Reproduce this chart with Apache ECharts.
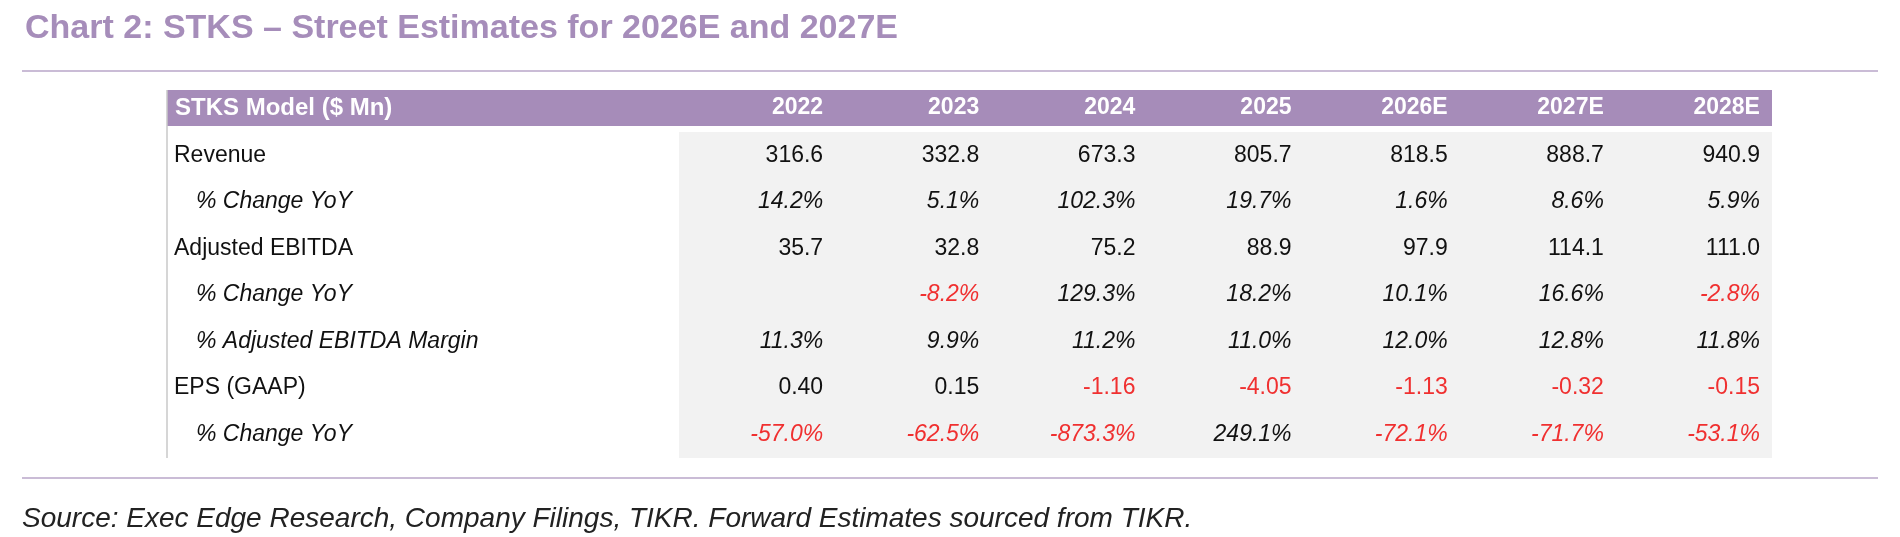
<!DOCTYPE html>
<html><head><meta charset="utf-8">
<script src="https://cdn.jsdelivr.net/npm/echarts@6/dist/echarts.min.js"></script>
<style>html,body{margin:0;padding:0;background:#fff}#c{width:1900px;height:537px}</style>
</head><body><div id="c"></div>
<script>
const years = ['2022','2023','2024','2025','2026E','2027E','2028E'];
const rowLabels = ['Revenue','% Change YoY','Adjusted EBITDA','% Change YoY','% Adjusted EBITDA Margin','EPS (GAAP)','% Change YoY'];
const rowItalic = [false,true,false,true,true,false,true];
const revenue = ['316.6','332.8','673.3','805.7','818.5','888.7','940.9'];
const revenueYoY = ['14.2%','5.1%','102.3%','19.7%','1.6%','8.6%','5.9%'];
const ebitda = ['35.7','32.8','75.2','88.9','97.9','114.1','111.0'];
const ebitdaYoY = ['','-8.2%','129.3%','18.2%','10.1%','16.6%','-2.8%'];
const ebitdaMargin = ['11.3%','9.9%','11.2%','11.0%','12.0%','12.8%','11.8%'];
const eps = ['0.40','0.15','-1.16','-4.05','-1.13','-0.32','-0.15'];
const epsYoY = ['-57.0%','-62.5%','-873.3%','249.1%','-72.1%','-71.7%','-53.1%'];
const rows = [revenue,revenueYoY,ebitda,ebitdaYoY,ebitdaMargin,eps,epsYoY];

const cells = [];
rows.forEach((r,ri)=>r.forEach((v,ci)=>cells.push([ci,ri,v])));
const FONT = 'Liberation Sans, Arial, sans-serif';
const chart = echarts.init(document.getElementById('c'));
chart.setOption({
  animation:false,
  title:{text:'Chart 2: STKS – Street Estimates for 2026E and 2027E',left:20,top:7,
    textStyle:{fontFamily:FONT,fontSize:34,fontWeight:'bold',color:'#a68dba'}},
  graphic:[
    {type:'line',shape:{x1:22,y1:71,x2:1878,y2:71},style:{stroke:'#b9a6c9',lineWidth:1.5}},
    {type:'rect',shape:{x:167,y:90,width:1605,height:36},style:{fill:'#a68cb9'}},
    {type:'text',style:{x:175,y:108,text:'STKS Model ($ Mn)',fill:'#fff',font:'bold 24px '+FONT,verticalAlign:'middle'}},
    {type:'line',shape:{x1:167,y1:90,x2:167,y2:458},style:{stroke:'#c8c8c8',lineWidth:1.5}},
    {type:'line',shape:{x1:22,y1:478,x2:1878,y2:478},style:{stroke:'#b9a6c9',lineWidth:1.5}},
    {type:'text',style:{x:22,y:519,text:'Source: Exec Edge Research, Company Filings, TIKR. Forward Estimates sourced from TIKR.',
      fill:'#222',font:'italic 28px '+FONT,verticalAlign:'middle'}}
  ],
  grid:{left:679,right:128,top:132,height:326,show:true,backgroundColor:'#f2f2f2',borderWidth:0},
  xAxis:{type:'category',data:years,position:'top',axisLine:{show:false},axisTick:{show:false},
    axisLabel:{show:true,margin:24,align:'right',verticalAlign:'middle',interval:0,
      color:'#fff',fontWeight:'bold',fontSize:23,fontFamily:FONT,padding:[0,-66,0,0]},
    splitLine:{show:false}},
  yAxis:{type:'category',data:rowLabels,inverse:true,axisLine:{show:false},axisTick:{show:false},splitLine:{show:false},
    axisLabel:{margin:505,align:'left',fontFamily:FONT,fontSize:23,color:'#111',
      formatter:(v,i)=>rowItalic[i]?'{it|'+v+'}':v,
      rich:{it:{fontStyle:'italic',fontFamily:FONT,fontSize:23,color:'#111',padding:[0,0,0,22]}}}},
  series:[{type:'custom',data:cells,encode:{x:0,y:1},
    renderItem:(params,api)=>{
      const ci=api.value(0), ri=api.value(1), v=cells[params.dataIndex][2];
      const p=api.coord([ci,ri]); const s=api.size([1,1]);
      const neg = v.startsWith('-') && ri>=3;
      return {type:'text',style:{x:p[0]+s[0]/2-12,y:p[1],text:v,align:'right',verticalAlign:'middle',
        fill:neg?'#f03030':'#111',font:(rowItalic[ri]?'italic ':'')+'23px '+FONT}};
    }}]
});
</script></body></html>
